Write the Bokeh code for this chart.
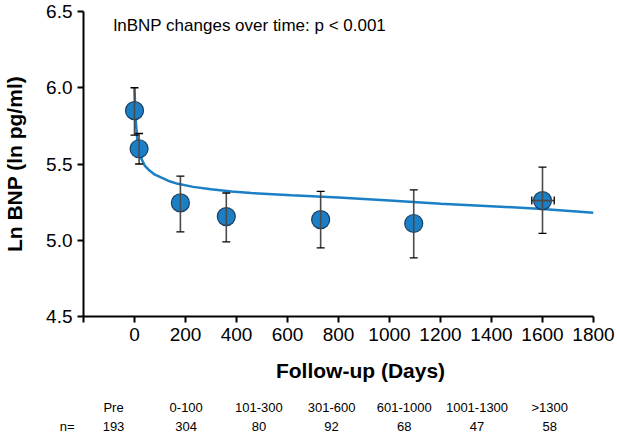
import math
from bokeh.plotting import figure
from bokeh.layouts import column
from bokeh.models import (FixedTicker, NumeralTickFormatter, Whisker, TeeHead,
                          ColumnDataSource, Label, Range1d, LinearAxis)
from bokeh.embed import file_html
from bokeh.resources import INLINE

# ---- data ----
days = [0, 18, 180, 360, 730, 1095, 1600]
ln_bnp = [5.85, 5.60, 5.245, 5.155, 5.135, 5.11, 5.26]
err_upper = [6.00, 5.70, 5.42, 5.31, 5.32, 5.33, 5.48]
err_lower = [5.69, 5.50, 5.055, 4.99, 4.95, 4.885, 5.045]
last_day = [1600]
last_val = [5.26]
last_day_lo = [1558]
last_day_hi = [1646]

curve_days = [0, 3, 6, 10, 15, 20, 27, 40, 60, 80, 106, 140, 170, 230, 300,
              380, 458, 615, 800, 1000, 1201, 1436, 1600, 1800]
curve_vals = [6.00, 5.86, 5.76, 5.68, 5.62, 5.575, 5.535, 5.49, 5.455, 5.43,
              5.41, 5.385, 5.37, 5.35, 5.335, 5.32, 5.31, 5.295, 5.28, 5.26,
              5.24, 5.22, 5.205, 5.18]

groups = ["Pre", "0-100", "101-300", "301-600", "601-1000", "1001-1300", ">1300"]
n_counts = [193, 304, 80, 92, 68, 47, 58]
n_label = "n="

x_ticks = [-200, 0, 200, 400, 600, 800, 1000, 1200, 1400, 1600, 1800]
y_ticks = [4.5, 5.0, 5.5, 6.0, 6.5]

FONT = "Liberation Sans"
BLUE = "#1b7fc6"
EDGE = "#1c3f63"
ERR = "#4a4a4a"

W = 615
FL = 83            # frame left on the page
FW = 510           # frame width
FR = W - FL - FW
TOP = 11
FH = 305
H_TOP = 352
H_BOT = 83
LBL_DY = -7        # rendering offset of Label baselines

# ---------------- main chart ----------------
p = figure(frame_width=FW, frame_height=FH,
           min_border_left=FL, min_border_right=FR,
           min_border_top=TOP, min_border_bottom=H_TOP - TOP - FH,
           x_range=Range1d(-200, 1800), y_range=Range1d(4.5, 6.5),
           output_backend="svg", toolbar_location=None, margin=(0, 0, 0, 0))
p.outline_line_color = None
p.xgrid.visible = False
p.ygrid.visible = False
p.background_fill_color = "white"
p.border_fill_color = "white"

for ax in (p.xaxis[0], p.yaxis[0]):
    ax.axis_line_width = 2
    ax.axis_line_color = "black"
    ax.major_tick_line_width = 2
    ax.major_tick_line_color = "black"
    ax.major_tick_out = 6
    ax.major_tick_in = 0
    ax.minor_tick_line_color = None
    ax.major_label_text_font = FONT
    ax.major_label_text_font_size = "19px"
    ax.major_label_text_color = "black"

p.xaxis.ticker = FixedTicker(ticks=x_ticks)
p.xaxis.major_label_overrides = {-200: ""}
p.xaxis.major_label_standoff = 5
p.yaxis.ticker = FixedTicker(ticks=y_ticks)
p.yaxis.formatter = NumeralTickFormatter(format="0.0")
p.yaxis.major_label_standoff = 5
p.yaxis.axis_label = "Ln BNP (ln pg/ml)"
p.yaxis.axis_label_text_font = FONT
p.yaxis.axis_label_text_font_size = "21px"
p.yaxis.axis_label_text_font_style = "bold"
p.yaxis.axis_label_text_color = "black"
p.yaxis.axis_label_standoff = 17

# error bars
src = ColumnDataSource(dict(x=days, y=ln_bnp, lo=err_lower, hi=err_upper))
p.add_layout(Whisker(source=src, base="x", upper="hi", lower="lo",
                     line_color=ERR, line_width=1.6,
                     upper_head=TeeHead(size=8, line_color="black", line_width=1.3),
                     lower_head=TeeHead(size=8, line_color="black", line_width=1.3),
                     level="glyph"))
hsrc = ColumnDataSource(dict(y=last_val, lo=last_day_lo, hi=last_day_hi))
p.add_layout(Whisker(source=hsrc, base="y", upper="hi", lower="lo", dimension="width",
                     line_color=ERR, line_width=1.6,
                     upper_head=TeeHead(size=8, line_color="black", line_width=1.3),
                     lower_head=TeeHead(size=8, line_color="black", line_width=1.3),
                     level="glyph"))

# fitted curve
p.line(curve_days, curve_vals, line_color=BLUE, line_width=2.5)

# means
p.scatter(x="x", y="y", source=src, size=18, fill_color=BLUE,
          line_color=EDGE, line_width=1.2)

p.add_layout(Label(x=113, y=31.5 + LBL_DY, x_units="canvas", y_units="canvas",
                   text="lnBNP changes over time: p < 0.001",
                   text_font=FONT, text_font_size="17px", text_color="black",
                   text_align="left", text_baseline="alphabetic"))

# ---------------- axis title + table strip below ----------------
q = figure(frame_width=FW, frame_height=H_BOT,
           min_border_left=FL, min_border_right=FR,
           min_border_top=0, min_border_bottom=0,
           x_range=Range1d(0, W), y_range=Range1d(0, H_BOT),
           x_axis_location=None, y_axis_location=None,
           output_backend="svg", toolbar_location=None, margin=(0, 0, 0, 0))
q.grid.visible = False
q.outline_line_color = None
q.background_fill_color = "white"
q.border_fill_color = "white"

ROW1_Y, ROW2_Y = 414, 433
N_CENTER_Y = 426   # page y of the middle of the count row

# "n=" sits left of the frame: a bare left axis carries it
n_axis = LinearAxis(ticker=FixedTicker(ticks=[H_BOT - (N_CENTER_Y - H_TOP)]),
                    major_label_overrides={H_BOT - (N_CENTER_Y - H_TOP): n_label},
                    axis_line_color=None, major_tick_line_color=None,
                    minor_tick_line_color=None, major_tick_out=0, major_tick_in=0,
                    major_label_standoff=FL - 74,
                    major_label_text_font=FONT, major_label_text_font_size="13px",
                    major_label_text_color="black")
q.add_layout(n_axis, "left")


def strip_label(px, py, text, size, bold=False, align="center"):
    """px, py: pixel position on the page (from its top-left)."""
    q.add_layout(Label(x=px, y=py - H_TOP + LBL_DY, x_units="canvas", y_units="canvas",
                       text=text, text_font=FONT, text_font_size=size,
                       text_font_style="bold" if bold else "normal",
                       text_color="black", text_align=align,
                       text_baseline="alphabetic"))


strip_label(360, 377, "Follow-up (Days)", "21px", bold=True)

col_x0, col_dx = 113, 72.7
for i, (g, n) in enumerate(zip(groups, n_counts)):
    cx = col_x0 + col_dx * i
    strip_label(cx, ROW1_Y, g, "13px")
    strip_label(cx, ROW2_Y, str(n), "13px")

layout = column(p, q, spacing=0, margin=(0, 0, 0, 0))
open("out.html", "w").write(file_html(layout, INLINE))
